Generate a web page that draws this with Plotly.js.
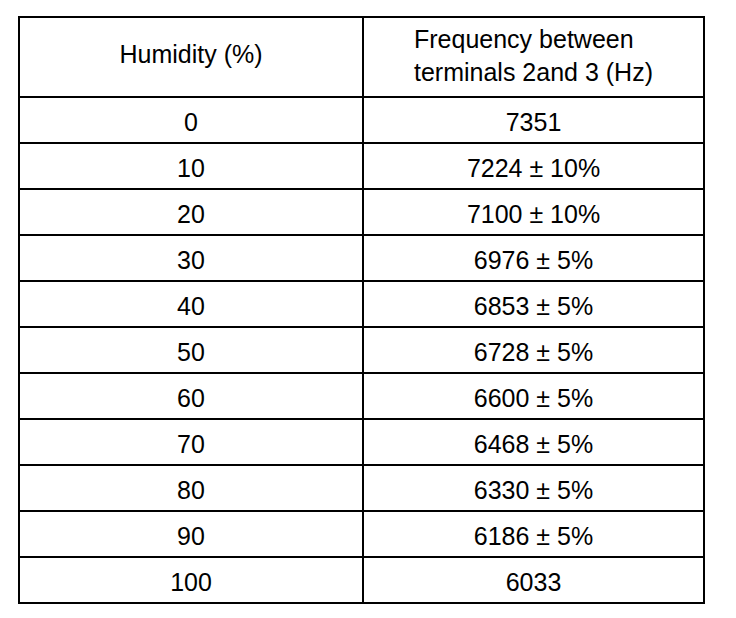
<!DOCTYPE html>
<html>
<head>
<meta charset="utf-8">
<script src="https://cdn.plot.ly/plotly-3.0.1.min.js"></script>
<style>html,body{margin:0;padding:0;background:#fff;}</style>
</head>
<body>
<div id="chart" style="width:736px;height:618px;"></div>
<script>
const headers = ["Humidity (%)", "Frequency between<br>terminals 2and 3 (Hz)"];
const humidity = ["0", "10", "20", "30", "40", "50", "60", "70", "80", "90", "100"];
const frequency = ["7351", "7224 ± 10%", "7100 ± 10%", "6976 ± 5%", "6853 ± 5%", "6728 ± 5%", "6600 ± 5%", "6468 ± 5%", "6330 ± 5%", "6186 ± 5%", "6033"];

const W = 736, H = 618;
const X0 = 19, XM = 363, X1 = 704, TOP = 17;
const HEAD_H = 80, ROW_H = 46;
const FONT = {family: "Liberation Sans, Arial, sans-serif", size: 25, color: "#000"};
const CLEAR = "rgba(0,0,0,0)";
const blank = humidity.map(() => "");

// shifts that centre the text vertically in its cell
const CELL_SHIFT = 7, HUM_SHIFT = 19;

const data = [
  // grid and the second header
  {
    type: "table",
    columnwidth: [XM - X0, X1 - XM],
    domain: {x: [X0 / W, X1 / W], y: [0, 1 - TOP / H]},
    header: {values: ["", headers[1]], align: "center", height: HEAD_H,
             line: {color: "#000", width: 2}, fill: {color: "#fff"}, font: FONT},
    cells: {values: [blank, blank], align: "center", height: ROW_H,
            line: {color: "#000", width: 2}, fill: {color: "#fff"}, font: FONT}
  },
  // body text
  {
    type: "table",
    columnwidth: [XM - X0, X1 - XM],
    domain: {x: [X0 / W, X1 / W], y: [0, 1 - (TOP + CELL_SHIFT) / H]},
    header: {values: ["", ""], height: HEAD_H,
             line: {color: CLEAR, width: 0}, fill: {color: CLEAR}, font: FONT},
    cells: {values: [humidity, frequency], align: "center", height: ROW_H,
            line: {color: CLEAR, width: 0}, fill: {color: CLEAR}, font: FONT}
  },
  // first header
  {
    type: "table",
    domain: {x: [X0 / W, XM / W], y: [0, 1 - (TOP + HUM_SHIFT) / H]},
    header: {values: [headers[0]], align: "center", height: HEAD_H - HUM_SHIFT,
             line: {color: CLEAR, width: 0}, fill: {color: CLEAR}, font: FONT},
    cells: {values: [[]], height: ROW_H,
            line: {color: CLEAR, width: 0}, fill: {color: CLEAR}, font: FONT}
  }
];

const layout = {
  width: W, height: H,
  margin: {l: 0, r: 0, t: 0, b: 0},
  paper_bgcolor: "#fff",
  showlegend: false
};

Plotly.newPlot("chart", data, layout, {staticPlot: true, displayModeBar: false});
</script>
</body>
</html>
